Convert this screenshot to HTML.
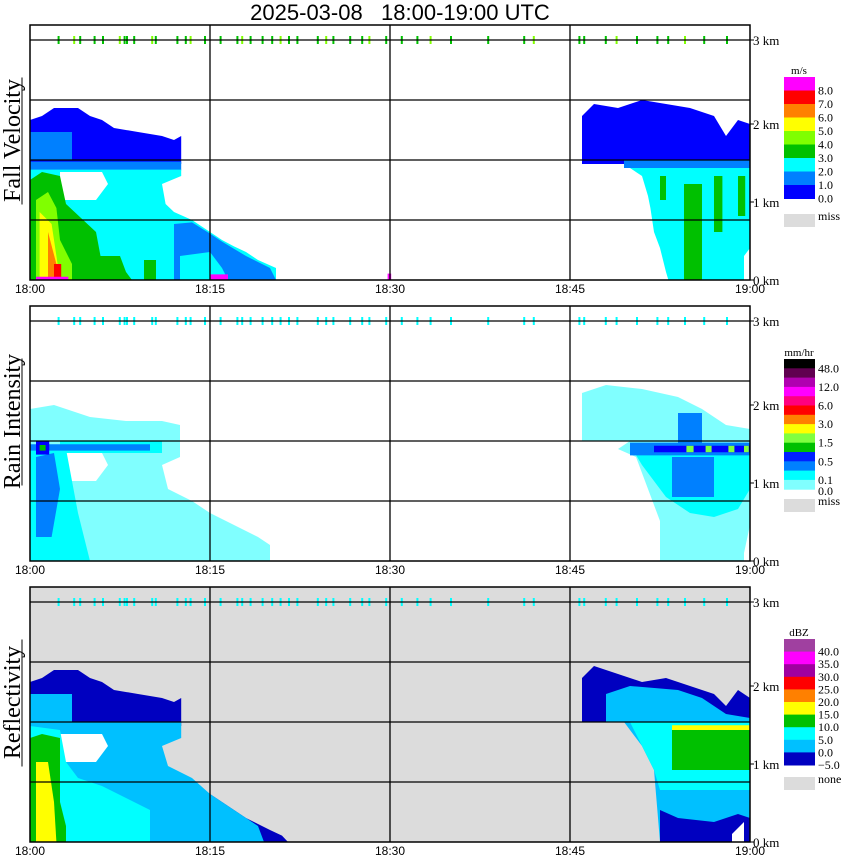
<!DOCTYPE html>
<html><head><meta charset="utf-8">
<style>
body{margin:0;background:#fff;width:850px;height:868px;overflow:hidden}
svg{display:block}
text{font-family:"Liberation Serif",serif;fill:#000}
.tk{font-family:"Liberation Sans",sans-serif;font-size:12px}
</style></head><body>
<svg id="c" width="850" height="868"></svg>
<script>
// ---- data (time in minutes after 18:00, height in km) ----
const timeTicks=["18:00","18:15","18:30","18:45","19:00"];
const tickMinutes=[0,15,30,45,60];
const kmLabels=[0,1,2,3];
const gridHeights=[0.75,1.5,2.25,3];
const topDotTimes=[2.3,3.6,4.1,5.3,6.0,7.4,7.8,8.0,8.6,10.1,10.4,12.2,12.9,13.3,14.5,15.8,17.2,17.6,18.3,19.3,20.1,20.8,21.5,22.2,23.9,24.6,25.2,26.6,27.6,28.2,29.6,30.9,32.2,33.3,35.0,38.1,41.1,41.9,45.7,46.1,47.9,48.8,50.5,52.2,53.1,54.5,56.1,58.0];
const panelNames=["Fall Velocity","Rain Intensity","Reflectivity"];
const panelTops=[25,306,587];
// regions: [color, points [t,h]...]
const velRegions=[
["#0000ff",[[0,1.45],[0,2.0],[1,2.05],[2,2.15],[4,2.15],[5,2.05],[6,2.0],[7,1.9],[9,1.85],[11,1.8],[12,1.75],[12.6,1.8],[12.6,1.45]]],
["#0080ff",[[0,1.5],[0,1.85],[3.5,1.85],[3.5,1.5]]],
["#0080ff",[[0,1.37],[0,1.48],[12.6,1.48],[12.6,1.37]]],
["#00ffff",[[0,0],[0,1.38],[12.6,1.38],[12.6,1.3],[11,1.2],[11.3,0.95],[12,0.85],[13.5,0.75],[15,0.6],[16,0.5],[17,0.42],[18,0.35],[19,0.25],[20.5,0.15],[20.5,0]]],
["#0080ff",[[12,0],[12,0.7],[13.5,0.72],[15,0.58],[16,0.48],[18,0.3],[20,0.15],[20.5,0]]],
["#00ffff",[[12.5,0],[12.5,0.3],[15,0.35],[16,0.15],[16.5,0]]],
["#ffffff",[[2.5,1.0],[2.5,1.35],[6,1.35],[6.5,1.2],[5.5,1.0]]],
["#00c000",[[0,0],[0,1.25],[1,1.35],[2.5,1.3],[3,0.95],[5.5,0.6],[6,0.2],[6,0]]],
["#80ff00",[[0.5,0],[0.5,1.0],[1.5,1.1],[2.2,0.9],[2.5,0.5],[3.5,0.2],[3.5,0]]],
["#ffff00",[[0.8,0],[0.8,0.85],[1.8,0.7],[2.2,0.3],[2.5,0]]],
["#ff8000",[[1.5,0],[1.5,0.6],[2.2,0.2],[2.3,0]]],
["#ff0000",[[2,0],[2,0.2],[2.6,0.2],[2.6,0]]],
["#ff00ff",[[0.5,0],[0.5,0.04],[3.2,0.04],[3.2,0]]],
["#00c000",[[3.5,0],[3.5,0.35],[4.2,0.35],[4.5,0]]],
["#00c000",[[5.5,0],[5.5,0.3],[7.5,0.3],[8,0.1],[8.5,0]]],
["#00c000",[[9.5,0],[9.5,0.25],[10.5,0.25],[10.5,0]]],
["#ff00ff",[[15,0],[15,0.07],[16.5,0.07],[16.5,0]]],
["#ff00ff",[[29.8,0],[29.8,0.08],[30.1,0.08],[30.1,0]]],
["#0000ff",[[46,1.45],[46,2.05],[47,2.2],[49,2.15],[51,2.25],[53,2.2],[55,2.15],[57,2.05],[58,1.8],[59,2.0],[60,1.95],[60,1.45]]],
["#0080ff",[[49.5,1.4],[49.5,1.5],[60,1.5],[60,1.4]]],
["#00ffff",[[50,1.4],[51,1.3],[51.5,1.05],[51.7,0.9],[52,0.6],[52.5,0.4],[53,0.1],[53.2,0],[59.5,0],[59.5,0.3],[60,0.4],[60,1.4]]],
["#00c000",[[54.5,0],[54.5,1.2],[56,1.2],[56,0]]],
["#00c000",[[52.5,1.0],[52.5,1.3],[53,1.3],[53,1.0]]],
["#00c000",[[57,0.6],[57,1.3],[57.7,1.3],[57.7,0.6]]],
["#00c000",[[59,0.8],[59,1.3],[59.6,1.3],[59.6,0.8]]]
];
const rainRegions=[
["#80ffff",[[0,0],[0,1.9],[2,1.95],[5,1.8],[8,1.75],[11,1.75],[12.5,1.7],[12.5,1.3],[11,1.2],[11.5,0.9],[13.5,0.75],[15,0.6],[17,0.45],[19,0.3],[20,0.2],[20,0]]],
["#ffffff",[[2.5,1.0],[2.5,1.35],[6,1.35],[6.5,1.2],[5.5,1.0]]],
["#00ffff",[[0,0],[0,1.45],[3,1.4],[3.5,1.0],[4,0.6],[4.5,0.3],[5,0]]],
["#00ffff",[[2.5,1.35],[2.5,1.5],[11,1.5],[11,1.35]]],
["#0080ff",[[0.5,0.3],[0.5,1.3],[2,1.35],[2.5,0.9],[1.8,0.3]]],
["#0080ff",[[0,1.38],[0,1.46],[10,1.46],[10,1.38]]],
["#0000ff",[[0.5,1.33],[0.5,1.5],[1.6,1.5],[1.6,1.33]]],
["#00c000",[[0.8,1.38],[0.8,1.45],[1.3,1.45],[1.3,1.38]]],
["#80ffff",[[46,1.5],[46,2.1],[48,2.2],[51,2.15],[54,2.05],[56,1.9],[58,1.7],[60,1.65],[60,0.45],[59.5,0.1],[59.5,0],[52.5,0],[52.5,0.5],[51.5,0.9],[50.5,1.3],[49,1.4],[50,1.5]]],
["#00ffff",[[50,1.45],[51,1.2],[52,1.0],[53,0.8],[55,0.6],[57,0.55],[59,0.65],[60,0.9],[60,1.45]]],
["#0080ff",[[54,1.45],[54,1.85],[56,1.85],[56,1.45]]],
["#0080ff",[[53.5,0.8],[53.5,1.3],[57,1.3],[57,0.8]]],
["#0080ff",[[50,1.32],[50,1.48],[60,1.48],[60,1.32]]],
["#0000ff",[[52,1.36],[52,1.44],[60,1.44],[60,1.36]]],
["#80ff40",[[54.7,1.36],[54.7,1.44],[55.3,1.44],[55.3,1.36]]],
["#80ff40",[[56.3,1.36],[56.3,1.44],[56.8,1.44],[56.8,1.36]]],
["#80ff40",[[58.2,1.36],[58.2,1.44],[58.7,1.44],[58.7,1.36]]],
["#80ff40",[[59.5,1.36],[59.5,1.44],[59.9,1.44],[59.9,1.36]]]
];
const reflRegions=[
["#0000c0",[[0,1.45],[0,2.0],[1,2.05],[2,2.15],[4,2.15],[5,2.05],[6,2.0],[7,1.9],[9,1.85],[11,1.8],[12,1.75],[12.6,1.8],[12.6,1.45]]],
["#00c0ff",[[0,1.5],[0,1.85],[3.5,1.85],[3.5,1.5]]],
["#0000c0",[[12,0],[12,0.9],[14,0.7],[16,0.5],[18,0.3],[20,0.15],[21,0.08],[21.5,0]]],
["#00c0ff",[[0,0],[0,1.5],[12.6,1.5],[12.6,1.3],[11,1.2],[11.5,0.95],[13.5,0.8],[15,0.6],[17,0.4],[19,0.2],[19.5,0]]],
["#ffffff",[[2.5,1.0],[2.5,1.35],[6,1.35],[6.5,1.2],[5.5,1.0]]],
["#00ffff",[[0,0],[0,1.45],[2.5,1.4],[3,1.0],[4,0.8],[6,0.7],[8,0.55],[10,0.4],[10,0]]],
["#00c000",[[0,0],[0,1.3],[1,1.35],[2.5,1.3],[2.5,0.5],[3,0.2],[3,0]]],
["#ffff00",[[0.5,0],[0.5,1.0],[1.5,1.0],[2,0.5],[2.2,0]]],
["#0000c0",[[46,1.5],[46,2.05],[47,2.2],[49,2.1],[51,2.0],[53,2.05],[55,1.95],[57,1.85],[58,1.7],[59,1.9],[60,1.8],[60,1.5]]],
["#00c0ff",[[48,1.5],[48,1.85],[50,1.95],[54,1.9],[56,1.8],[58,1.6],[60,1.55],[60,1.5]]],
["#00c0ff",[[49.5,1.5],[51,1.2],[52,0.9],[52.5,0],[60,0],[60,1.5]]],
["#00ffff",[[50,1.5],[51,1.2],[52,0.9],[52.5,0.65],[60,0.65],[60,1.5]]],
["#00c000",[[53.5,0.9],[53.5,1.45],[60,1.45],[60,0.9]]],
["#ffff00",[[53.5,1.4],[53.5,1.46],[60,1.46],[60,1.4]]],
["#0000c0",[[52.5,0],[52.5,0.4],[54,0.3],[57,0.25],[59,0.35],[60,0.3],[60,0]]],
["#ffffff",[[58.5,0],[58.5,0.1],[59.5,0.25],[59.5,0]]]
];
const legVelColors=["#ff00ff","#ff0000","#ff8000","#ffff00","#80ff00","#00c000","#00ffff","#0080ff","#0000ff"];
const legVelLabels=["8.0","7.0","6.0","5.0","4.0","3.0","2.0","1.0","0.0"];
const legRainColors=["#000000","#600050","#b000b0","#ff00ff","#ff0080","#ff0000","#ff8000","#ffff00","#80ff40","#00c000","#0020ff","#0080ff","#00ffff","#80ffff"];
const legRainLabels=["48.0","","12.0","","6.0","","3.0","","1.5","","0.5","","0.1",""];
const legRefColors=["#a040a0","#ff00ff","#a000a0","#ff0000","#ff8000","#ffff00","#00c000","#00ffff","#00c0ff","#0000c0"];
const legRefLabels=["40.0","35.0","30.0","25.0","20.0","15.0","10.0","5.0","0.0","\u22125.0"];

const NS="http://www.w3.org/2000/svg";
const svg=document.getElementById('c');
function mk(tag,attrs,parent){const e=document.createElementNS(NS,tag);for(const k in attrs)e.setAttribute(k,attrs[k]);(parent||svg).appendChild(e);return e;}
const X0=30,X1=750,PH=255;
function xs(t){return X0+t*(X1-X0)/60;}
function ys(h,top){return top+PH-h*80;}

const title=mk('text',{x:400,y:20,'text-anchor':'middle','font-size':'22'});
title.textContent='2025-03-08   18:00-19:00 UTC';
title.setAttribute('style','white-space:pre;font-family:"Liberation Sans",sans-serif');



const regionSets=[velRegions,rainRegions,reflRegions];
const dotColors=["#00c000","#00ffff","#00ffff"];
for(let p=0;p<3;p++){
  const top=panelTops[p];
  const g=mk('g',{});
  
  
  if(p===2){const bg=mk('rect',{x:X0,y:top,width:X1-X0,height:PH,fill:'#dcdcdc'},g);
    }
  regionSets[p].forEach(function(r,i){
    const pts=r[1].map(function(q){return xs(q[0]).toFixed(1)+','+ys(q[1],top).toFixed(1);}).join(' ');
    const pl=mk('polygon',{points:pts,fill:r[0]},g);
    
    
  });
  topDotTimes.forEach(function(t,i){
    const d=mk('rect',{x:xs(t).toFixed(1),y:ys(3,top)-4,width:2,height:8,fill:(p===0&&i%4===1)?'#80ff00':dotColors[p]},g);
    
    
  });
  gridHeights.forEach(function(h){
    const l=mk('line',{x1:X0,x2:X1,y1:ys(h,top),y2:ys(h,top),stroke:'#000','stroke-width':1.3},g);
    
  });
  tickMinutes.forEach(function(t,i){
    if(i>0&&i<4){const l=mk('line',{x1:xs(t),x2:xs(t),y1:top,y2:top+PH,stroke:'#000','stroke-width':1.3},g);
      }
    const tx=mk('text',{x:xs(t),y:top+PH+13,'text-anchor':'middle','class':'tk'},g);
    tx.textContent=timeTicks[i];
    
  });
  const fr=mk('rect',{x:X0,y:top,width:X1-X0,height:PH,fill:'none',stroke:'#000','stroke-width':1.5},g);
  
  kmLabels.forEach(function(k){
    const yy=k===3?ys(3,top):top+PH-k*78;
    const tk=mk('line',{x1:X1,x2:X1+4,y1:yy,y2:yy,stroke:'#000'},g);
    
    const tx=mk('text',{x:X1+3,y:yy+5,'font-size':'13'},g);
    tx.textContent=k+' km';
    
  });
  const yl=mk('text',{x:0,y:0,'font-size':'24','text-anchor':'middle',transform:'translate(20,'+(top+PH/2-12)+') rotate(-90)'},g);
  yl.textContent=panelNames[p];
  
  const yb=mk('line',{x1:22,x2:22,y1:top+PH/2-75,y2:top+PH/2+52,stroke:'#000'},g);
  
}

function legend(colors,labels,unit,miss,lx,ly,h,missY,labelMode){
  const g=mk('g',{});
  
  
  const u=mk('text',{x:lx+15,y:ly-3,'font-size':'11','text-anchor':'middle'},g);u.textContent=unit;
  
  colors.forEach(function(c,i){
    const r=mk('rect',{x:lx,y:(ly+i*h).toFixed(1),width:31,height:(h+0.5).toFixed(1),fill:c},g);
    
    if(labels[i]){
      const off=labelMode==='mid'?h/2+4:h+4;
      const t=mk('text',{x:lx+34,y:(ly+i*h+off).toFixed(1),'font-size':'12'},g);t.textContent=labels[i];
      
    }
  });
  const mr=mk('rect',{x:lx,y:missY,width:31,height:13,fill:'#dcdcdc'},g);
  
  const mt=mk('text',{x:lx+34,y:missY+6,'font-size':'12'},g);mt.textContent=miss;
  
  return g;
}
legend(legVelColors,legVelLabels,'m/s','miss',784,77,13.5,214,'end');
legend(legRainColors,legRainLabels,'mm/hr','miss',784,359,9.3,499,'start');
const z=mk('text',{x:818,y:495,'font-size':'12'});z.textContent='0.0';

legend(legRefColors,legRefLabels,'dBZ','none',784,639,12.6,777,'end');
</script>
</body></html>
